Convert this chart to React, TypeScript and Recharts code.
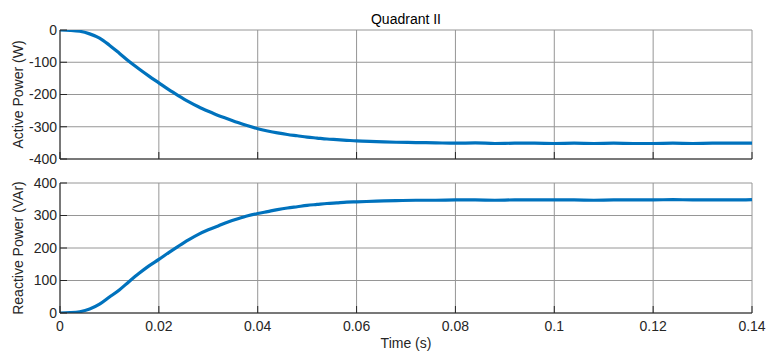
import React from 'react';
import { LineChart, Line, XAxis, YAxis, CartesianGrid } from 'recharts';

// simulation time (s)
const time = [
  0, 0.002, 0.004, 0.006, 0.008, 0.01, 0.012, 0.014, 0.016, 0.018,
  0.02, 0.022, 0.024, 0.026, 0.028, 0.03, 0.032, 0.034, 0.036, 0.038,
  0.04, 0.042, 0.044, 0.046, 0.048, 0.05, 0.052, 0.054, 0.056, 0.058,
  0.06, 0.064, 0.068, 0.072, 0.076, 0.08, 0.084, 0.088, 0.092, 0.096,
  0.1, 0.104, 0.108, 0.112, 0.116, 0.12, 0.124, 0.128, 0.132, 0.136, 0.14,
];

const activePower = [
  0, -1, -4, -12, -25, -47, -72, -98, -121, -143,
  -164, -185, -204, -222, -238, -252, -265, -276, -287, -297,
  -306, -313, -319, -324, -328, -332, -335, -338, -340, -342,
  -344, -346, -348, -349, -350, -351, -350, -352, -351, -351,
  -352, -351, -352, -351, -352, -352, -351, -352, -351, -351, -351,
];

const reactivePower = [
  0, 1, 4, 12, 27, 49, 71, 97, 122, 145,
  165, 186, 206, 225, 242, 256, 268, 280, 290, 299,
  306, 312, 318, 323, 327, 331, 334, 337, 339, 341,
  342, 344, 346, 347, 347, 348, 348, 347, 348, 348,
  348, 348, 347, 348, 348, 348, 349, 348, 348, 348, 349,
];

const timeTicks = [0, 0.02, 0.04, 0.06, 0.08, 0.1, 0.12, 0.14];
const activeTicks = [-400, -300, -200, -100, 0];
const reactiveTicks = [0, 100, 200, 300, 400];

const data = time.map((t, i) => ({ t, p: activePower[i], q: reactivePower[i] }));

const FONT = '"Liberation Sans", Arial, Helvetica, sans-serif';
const AXIS = '#262626';
const GRID = '#969696';
const BLUE = '#0072BD';
const tickStyle = { fontSize: 14, fill: AXIS, fontFamily: FONT };
const blank = () => '';

const Panel: React.FC<{
  top: number;
  height: number;
  marginTop: number;
  xHeight: number;
  dataKey: string;
  yTicks: number[];
  yLabel: string;
  showX: boolean;
}> = ({ top, height, marginTop, xHeight, dataKey, yTicks, yLabel, showX }) => (
  <div style={{ position: 'absolute', left: 0, top }}>
    <LineChart width={771} height={height} data={data} margin={{ top: marginTop, right: 19, left: 0, bottom: 0 }}>
      <CartesianGrid stroke={GRID} strokeWidth={1} />
      <XAxis
        dataKey="t"
        type="number"
        domain={[0, 0.14]}
        ticks={timeTicks}
        height={xHeight}
        stroke={AXIS}
        tickSize={-7}
        tickMargin={15}
        tick={tickStyle}
        tickFormatter={showX ? (v: number) => String(v) : blank}
        interval={0}
        label={showX ? { value: 'Time (s)', position: 'insideBottom', offset: 3, fontSize: 14, fill: AXIS, fontFamily: FONT } : undefined}
      />
      <XAxis
        xAxisId="top"
        dataKey="t"
        type="number"
        orientation="top"
        domain={[0, 0.14]}
        ticks={timeTicks}
        height={0}
        stroke={AXIS}
        tickSize={-7}
        tick={tickStyle}
        tickFormatter={blank}
        interval={0}
      />
      <YAxis
        type="number"
        domain={[yTicks[0], yTicks[yTicks.length - 1]]}
        ticks={yTicks}
        width={60}
        stroke={AXIS}
        tickSize={-7}
        tickMargin={10}
        tick={tickStyle}
        interval={0}
        allowDataOverflow
        label={{ value: yLabel, angle: -90, position: 'center', dx: -12, fontSize: 14, fill: AXIS, fontFamily: FONT }}
      />
      <YAxis
        yAxisId="right"
        type="number"
        orientation="right"
        domain={[yTicks[0], yTicks[yTicks.length - 1]]}
        ticks={yTicks}
        width={0}
        stroke={AXIS}
        tickSize={-7}
        tick={tickStyle}
        tickFormatter={blank}
        interval={0}
      />
      <Line
        type="monotone"
        dataKey={dataKey}
        stroke={BLUE}
        strokeWidth={3.2}
        dot={false}
        isAnimationActive={false}
      />
    </LineChart>
  </div>
);

export default function App() {
  return (
    <div style={{ position: 'absolute', left: 0, top: 0, width: 771, height: 351, background: '#fff', fontFamily: FONT }}>
      <div
        style={{
          position: 'absolute',
          left: 60,
          width: 692,
          top: 10,
          textAlign: 'center',
          fontSize: 14,
          color: '#000',
          lineHeight: '18px',
        }}
      >
        Quadrant II
      </div>
      <Panel top={0} height={170} marginTop={30} xHeight={11} dataKey="p" yTicks={activeTicks} yLabel="Active Power (W)" showX={false} />
      <Panel top={160} height={191} marginTop={23} xHeight={38} dataKey="q" yTicks={reactiveTicks} yLabel="Reactive Power (VAr)" showX={true} />
    </div>
  );
}
